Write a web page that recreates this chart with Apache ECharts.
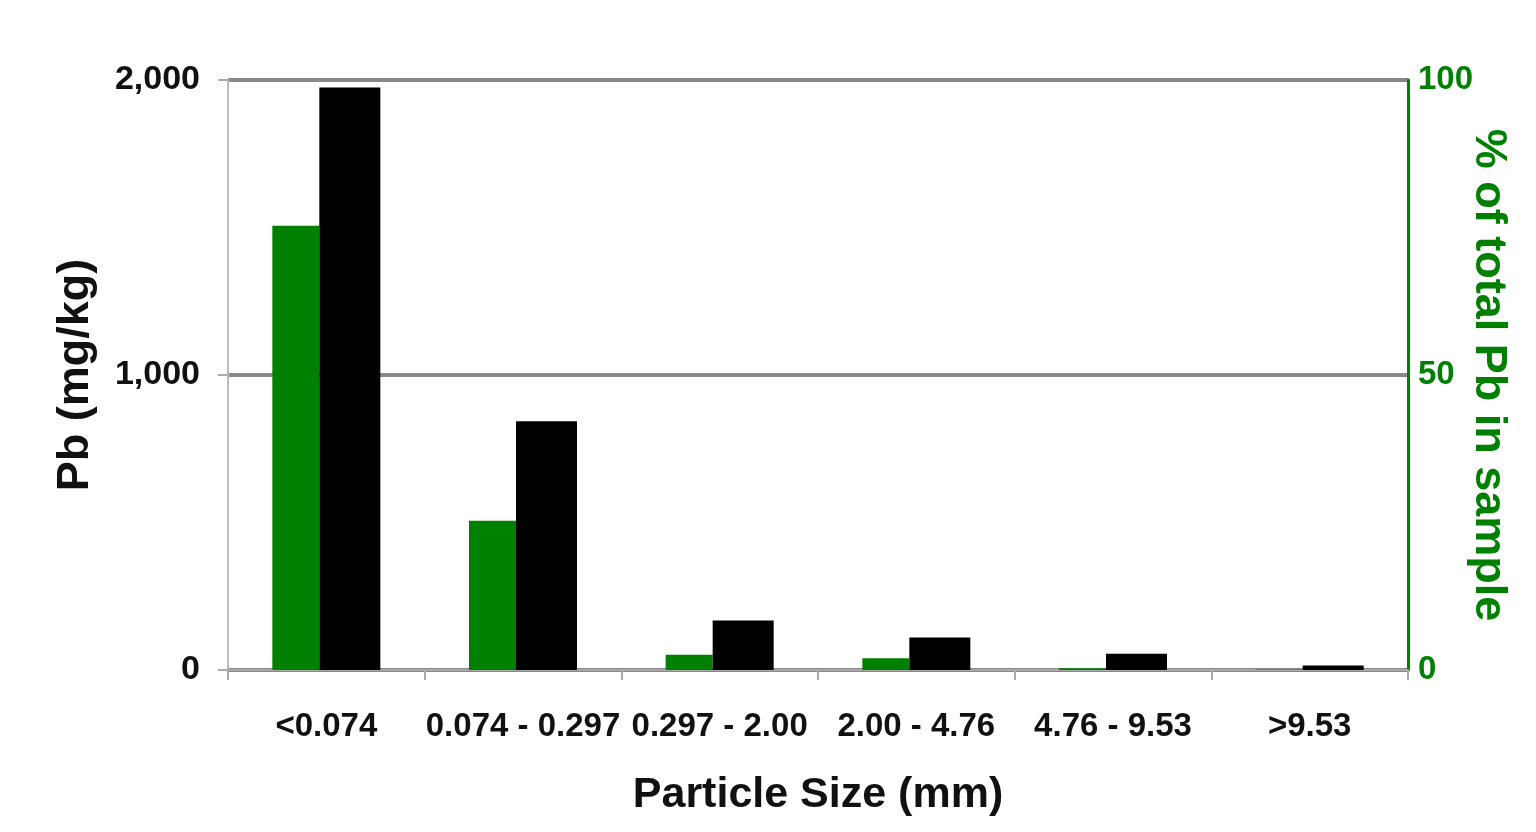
<!DOCTYPE html>
<html><head><meta charset="utf-8">
<script src="https://cdn.jsdelivr.net/npm/echarts@6/dist/echarts.min.js"></script>
<style>html,body{margin:0;padding:0;background:#fff}#c{width:1536px;height:832px}</style>
</head><body><div id="c"></div>
<script>
const categories = ['<0.074', '0.074 - 0.297', '0.297 - 2.00', '2.00 - 4.76', '4.76 - 9.53', '>9.53'];
const pctOfTotal = [75.3, 25.3, 2.6, 2.0, 0.3, 0.1];
const pbMgKg = [1975, 843, 168, 110, 55, 15];
const leftTicks = [0, 1000, 2000];
const rightTicks = [0, 50, 100];

const font = 'Liberation Sans, Arial, sans-serif';
const chart = echarts.init(document.getElementById('c'));
chart.setOption({
  animation: false,
  grid: { left: 228, right: 128, top: 80, bottom: 162 },
  xAxis: {
    type: 'category', data: categories,
    name: 'Particle Size (mm)', nameLocation: 'middle', nameGap: 104,
    nameTextStyle: { fontFamily: font, fontWeight: 'bold', fontSize: 43, color: '#111' },
    axisLine: { lineStyle: { color: '#aaa', width: 2 } },
    axisTick: { show: true, length: 10, lineStyle: { color: '#aaa', width: 2 } },
    axisLabel: { fontFamily: font, fontWeight: 'bold', fontSize: 33, color: '#111', margin: 40, interval: 0 }
  },
  yAxis: [
    {
      type: 'value', min: 0, max: 2000, interval: 1000, position: 'left',
      name: 'Pb (mg/kg)', nameLocation: 'middle', nameGap: 130, nameRotate: 90,
      nameTextStyle: { fontFamily: font, fontWeight: 'bold', fontSize: 45, color: '#111' },
      axisLine: { show: true, lineStyle: { color: '#bbb', width: 2 } },
      axisTick: { show: true, length: 10, lineStyle: { color: '#aaa', width: 2 } },
      axisLabel: { fontFamily: font, fontWeight: 'bold', fontSize: 34, color: '#111', margin: 28,
        formatter: v => leftTicks.includes(v) ? v.toLocaleString('en-US') : '' },
      splitLine: { show: true, lineStyle: { color: '#888', width: 4 } }
    },
    {
      type: 'value', min: 0, max: 100, interval: 50, position: 'right',
      name: '% of total Pb in sample', nameLocation: 'middle', nameGap: 58, nameRotate: -90,
      nameMoveOverlap: false,
      nameTextStyle: { fontFamily: font, fontWeight: 'bold', fontSize: 45, color: '#008000' },
      axisLine: { show: true, lineStyle: { color: '#008000', width: 3 } },
      axisTick: { show: false },
      axisLabel: { fontFamily: font, fontWeight: 'bold', fontSize: 33, color: '#008000', margin: 10,
        formatter: v => rightTicks.includes(v) ? String(v) : '' },
      splitLine: { show: false }
    }
  ],
  series: [
    { name: '% of total Pb', type: 'bar', yAxisIndex: 1, data: pctOfTotal,
      barWidth: 47, barGap: '0%', itemStyle: { color: '#008000' } },
    { name: 'Pb (mg/kg)', type: 'bar', yAxisIndex: 0, data: pbMgKg,
      barWidth: 61, barGap: '0%', itemStyle: { color: '#000' } }
  ]
});
</script></body></html>
